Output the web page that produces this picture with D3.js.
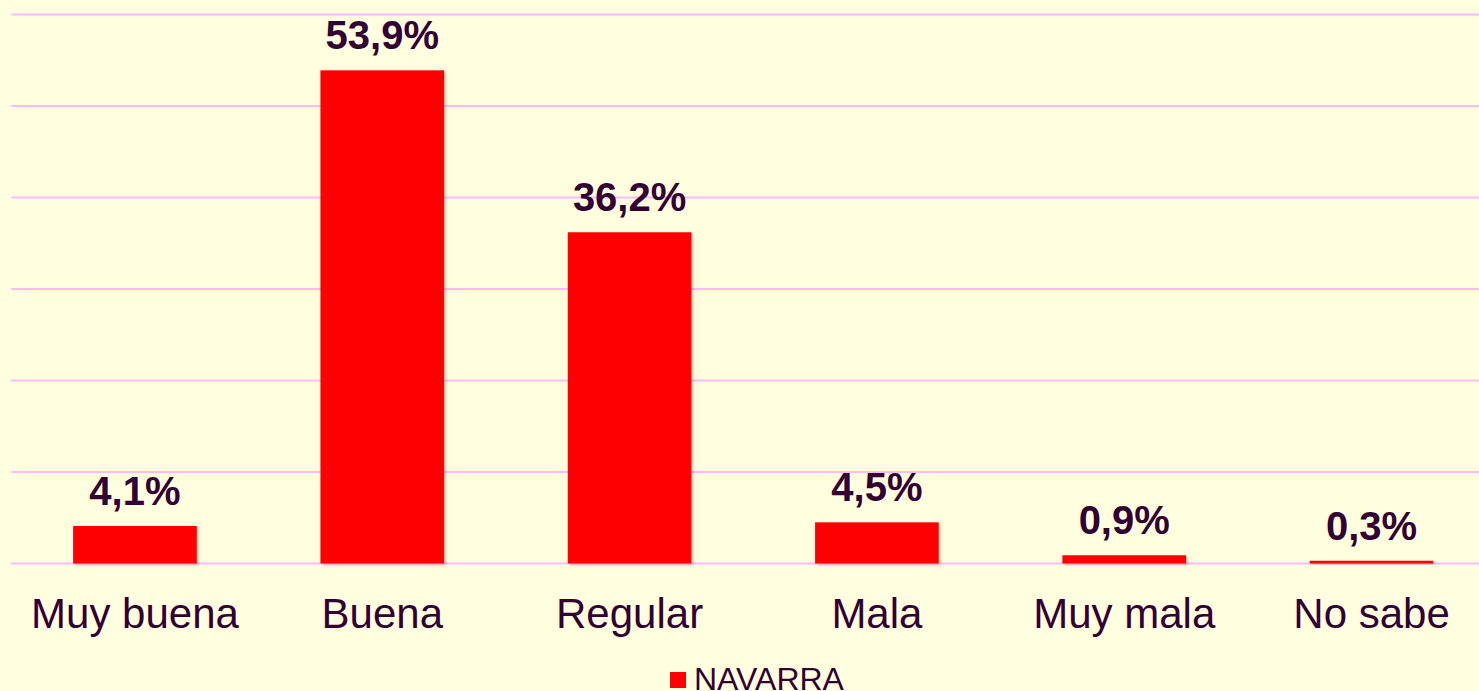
<!DOCTYPE html>
<meta charset="utf-8">
<style>
  body { margin: 0; background: #FFFFE0; overflow: hidden; }
  svg { display: block; font-family: "Liberation Sans", Arial, sans-serif; }
  .grid line { stroke: #FFB9FF; stroke-width: 2; }
  .value { font-weight: bold; font-size: 40px; fill: #330033; }
  .cat { font-size: 42px; fill: #330033; }
  .legend text { font-size: 32px; fill: #330033; }
</style>
<svg width="1479" height="691"></svg>
<script src="https://d3js.org/d3.v7.min.js"></script>
<script>
var categories = ["Muy buena", "Buena", "Regular", "Mala", "Muy mala", "No sabe"];
var values = [4.1, 53.9, 36.2, 4.5, 0.9, 0.3];
var ticks = [0, 10, 20, 30, 40, 50, 60];
var seriesName = "NAVARRA";

var svg = d3.select("svg");

svg.append("rect")
    .attr("width", "100%")
    .attr("height", "100%")
    .attr("fill", "#FFFFE0");

var x = d3.scaleBand()
    .domain(categories)
    .range([11.3, 1495.2])
    .paddingInner(0.5)
    .paddingOuter(0.25);

var y = d3.scaleLinear()
    .domain([0, 60])
    .range([563.5, 14.5]);

var defs = svg.append("defs");
var shadow = defs.append("filter").attr("id", "shadow")
    .attr("x", "-10%").attr("y", "-10%").attr("width", "130%").attr("height", "130%");
shadow.append("feDropShadow")
    .attr("dx", 2).attr("dy", 2).attr("stdDeviation", 1.5)
    .attr("flood-color", "#000").attr("flood-opacity", 0.2);

// gridlines
svg.append("g")
    .attr("class", "grid")
    .selectAll("line")
    .data(ticks)
    .enter()
    .append("line")
    .attr("x1", 11.3)
    .attr("x2", 1479)
    .attr("y1", function(d) { return y(d); })
    .attr("y2", function(d) { return y(d); });

// bars
svg.append("g")
    .selectAll("rect")
    .data(values)
    .enter()
    .append("rect")
    .attr("x", function(d, i) { return x(categories[i]); })
    .attr("y", function(d) { return y(d); })
    .attr("width", x.bandwidth())
    .attr("height", function(d) { return y(0) - y(d); })
    .attr("fill", "#FF0000")
    .attr("filter", "url(#shadow)");

// value labels
svg.append("g")
    .selectAll("text")
    .data(values)
    .enter()
    .append("text")
    .attr("class", "value")
    .attr("x", function(d, i) { return x(categories[i]) + x.bandwidth() / 2; })
    .attr("y", function(d) { return y(d) - 21; })
    .attr("text-anchor", "middle")
    .text(function(d) { return d.toFixed(1).replace(".", ",") + "%"; });

// category labels
svg.append("g")
    .selectAll("text")
    .data(categories)
    .enter()
    .append("text")
    .attr("class", "cat")
    .attr("x", function(d) { return x(d) + x.bandwidth() / 2; })
    .attr("y", 628)
    .attr("text-anchor", "middle")
    .text(function(d) { return d; });

// legend
var legend = svg.append("g").attr("class", "legend");
legend.append("rect")
    .attr("x", 670)
    .attr("y", 672)
    .attr("width", 16)
    .attr("height", 16)
    .attr("fill", "#FF0000");
legend.append("text")
    .attr("x", 694)
    .attr("y", 690)
    .text(seriesName);
</script>
